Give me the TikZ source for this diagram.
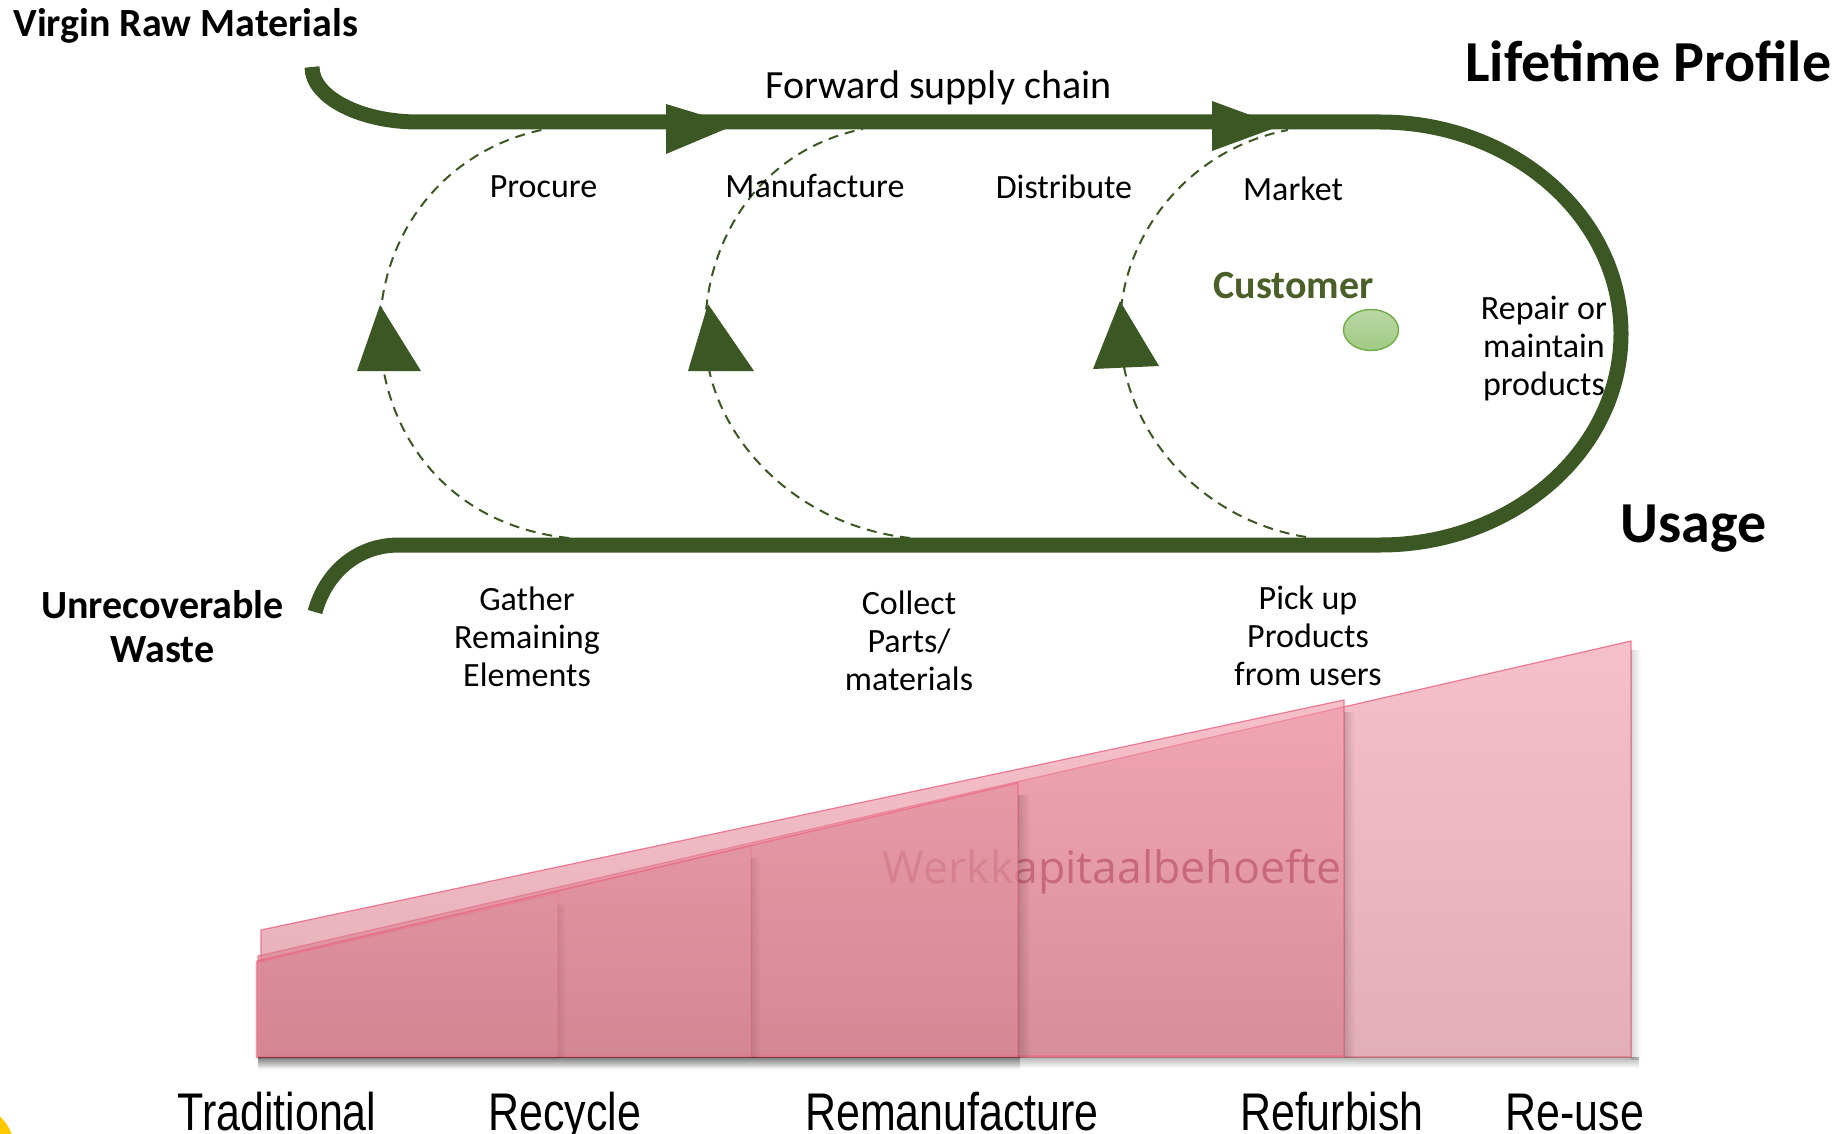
\documentclass[tikz,border=0pt]{standalone}
\usepackage{fontspec}
\setmainfont{Carlito}
\newfontfamily\werkfont{Open Sans}
\newfontfamily\stagefont[FakeStretch=0.81]{Liberation Sans}
\usetikzlibrary{fadings,shapes.geometric}
\definecolor{trackgreen}{RGB}{59,87,35}
\definecolor{custgreen}{RGB}{74,96,40}
\definecolor{dotTop}{RGB}{186,216,166}
\definecolor{dotBot}{RGB}{160,202,130}
\definecolor{dotEdge}{RGB}{112,173,71}
\definecolor{pinkTop}{RGB}{240,150,168}
\definecolor{pinkBot}{RGB}{208,120,136}
\definecolor{pinkFrontTop}{RGB}{228,150,162}
\definecolor{pinkFrontBot}{RGB}{212,132,145}
\definecolor{pinkEdge}{RGB}{238,96,126}
\definecolor{werkText}{RGB}{190,88,112}
\definecolor{sunYellow}{RGB}{255,200,0}
\begin{document}
\begin{tikzpicture}[x=0.5pt,y=-0.5pt,
  track/.style={draw=trackgreen, line width=7.5pt},
  loopline/.style={draw=trackgreen, line width=1pt, dash pattern=on 5pt off 3.5pt},
  headfill/.style={fill=trackgreen},
  lbl/.style={font=\fontsize{17}{19}\selectfont, inner sep=0pt, align=center, anchor=base},
  bigtitle/.style={font=\bfseries\fontsize{29}{32}\selectfont, inner sep=0pt, anchor=base},
  midtitle/.style={font=\bfseries\fontsize{20}{22}\selectfont, inner sep=0pt, anchor=base, align=center},
  stage/.style={font=\stagefont\fontsize{26.5}{28}\selectfont, inner sep=0pt, anchor=base},
  wedge/.style={top color=pinkTop, bottom color=pinkBot, fill opacity=0.6, draw=pinkEdge, draw opacity=0.8, line width=0.6pt},
  frontwedge/.style={top color=pinkFrontTop, bottom color=pinkFrontBot, draw=pinkEdge, line width=0.6pt},
  rshadow/.style={fill=black, fill opacity=0.16, path fading=east},
  bshadow/.style={fill=black, fill opacity=0.3, path fading=south},
]
\useasboundingbox (0,0) rectangle (1841,1134);

% corner decoration
\fill[sunYellow] (-31.5,1150) circle (46);

% ---------- working-capital wedges ----------
\path[wedge] (258,956) -- (1631,641) -- (1631,1057) -- (258,1057) -- cycle;
\fill[rshadow] (1631,650) rectangle (1641,1060);
\path[wedge] (261,930) -- (1344,700) -- (1344,1056) -- (261,1056) -- cycle;
\fill[rshadow] (1344,712) rectangle (1355,1058);
\node[font=\werkfont\fontsize{22.3}{24}\selectfont, text=werkText, text opacity=0.75, inner sep=0pt, anchor=base] (werk) at (1112,883) {Werkkapitaalbehoefte};
\path[frontwedge, fill opacity=0.62, draw opacity=0.7] (257,961) -- (1018,783) -- (1018,1057) -- (257,1057) -- cycle;
\fill[rshadow] (1018,795) rectangle (1030,1058);
\path[frontwedge, fill opacity=0.25, draw opacity=0.3] (257,962) -- (751,846) -- (751,1057) -- (257,1057) -- cycle;
\fill[rshadow, fill opacity=0.1] (751,858) rectangle (760,1058);
\path[frontwedge, fill opacity=0.22, draw opacity=0.25] (256,963) -- (558,893) -- (558,1058) -- (256,1058) -- cycle;
\fill[rshadow, fill opacity=0.08] (558,905) rectangle (566,1058);
\fill[bshadow] (258,1057) rectangle (1640,1068);
\fill[bshadow] (258,1057) rectangle (1020,1070);

% ---------- main lifecycle track ----------
\coordinate (vrm) at (312,67);
\coordinate (topA) at (418,122);
\coordinate (topR) at (1380,122);
\coordinate (rightM) at (1621,333.5);
\coordinate (botR) at (1380,545);
\coordinate (botA) at (399,545);
\coordinate (waste) at (315,612);
\draw[track] (vrm) .. controls (312,97) and (360,122) .. (topA) -- (topR)
  .. controls (1513,122) and (1621,216.7) .. (rightM)
  .. controls (1621,450.3) and (1513,545) .. (botR) -- (botA)
  .. controls (355,545) and (325,575) .. (waste);
\fill[headfill] (666,104) -- (735,125) -- (666,154) -- cycle;
\fill[headfill] (1212,101) -- (1280,126) -- (1212,151) -- cycle;

% ---------- return loops ----------
\coordinate (l1b) at (569,538); \coordinate (l1t) at (546,129);
\coordinate (l2b) at (910,538); \coordinate (l2t) at (863,129);
\coordinate (l3b) at (1306,537); \coordinate (l3t) at (1288,130);
\draw[loopline] (l1b) .. controls (445,525) and (382,430) .. (380,335)
  .. controls (378,240) and (440,150) .. (l1t);
\draw[loopline] (l2b) .. controls (790,525) and (706,430) .. (705,335)
  .. controls (704,240) and (760,150) .. (l2t);
\draw[loopline] (l3b) .. controls (1200,520) and (1121,430) .. (1120,330)
  .. controls (1119,240) and (1185,150) .. (l3t);
\fill[headfill] (380,305) -- (421,371) -- (357,371) -- cycle;
\fill[headfill] (708,304) -- (754,371) -- (688,371) -- cycle;
\fill[headfill] (1120,301) -- (1159,366) -- (1093,369) -- cycle;

% ---------- customer ----------
\node[ellipse, minimum width=27.5pt, minimum height=20.5pt, inner sep=0pt,
  top color=dotTop, bottom color=dotBot, draw=dotEdge, line width=0.7pt] (dot) at (1371,330) {};
\node[font=\bfseries\fontsize{20}{22}\selectfont, text=custgreen, inner sep=0pt, anchor=base] (customer) at (1293.5,299) {Customer};

% ---------- titles ----------
\node[midtitle, anchor=base west] (virgin) at (13,37) {Virgin Raw Materials};
\node[bigtitle, anchor=base west] (lifetime) at (1465,82) {Lifetime Profile};
\node[bigtitle, anchor=base west] (usage) at (1620,542) {Usage};
\node[midtitle] (unrec) at (162.5,662) {Unrecoverable\\Waste};
\node[font=\fontsize{20}{22}\selectfont, inner sep=0pt, anchor=base] (fwd) at (938.5,99) {Forward supply chain};

% ---------- step labels ----------
\node[lbl] (procure) at (543.5,198) {Procure};
\node[lbl] (manuf) at (815,198) {Manufacture};
\node[lbl] (distr) at (1064,199) {Distribute};
\node[lbl] (market) at (1293,201) {Market};
\node[lbl] (repair) at (1544,395) {Repair or\\maintain\\products};
\node[lbl] (gather) at (527,686) {Gather\\Remaining\\Elements};
\node[lbl] (collect) at (909,690) {Collect\\Parts/\\materials};
\node[lbl] (pickup) at (1308,685) {Pick up\\Products\\from users};

% ---------- strategy labels ----------
\node[stage] (trad) at (277,1130) {Traditional};
\node[stage] (recyc) at (565,1130) {Recycle};
\node[stage] (reman) at (952,1130) {Remanufacture};
\node[stage] (refurb) at (1332,1130) {Refurbish};
\node[stage] (reuse) at (1575,1130) {Re-use};
\end{tikzpicture}
\end{document}
